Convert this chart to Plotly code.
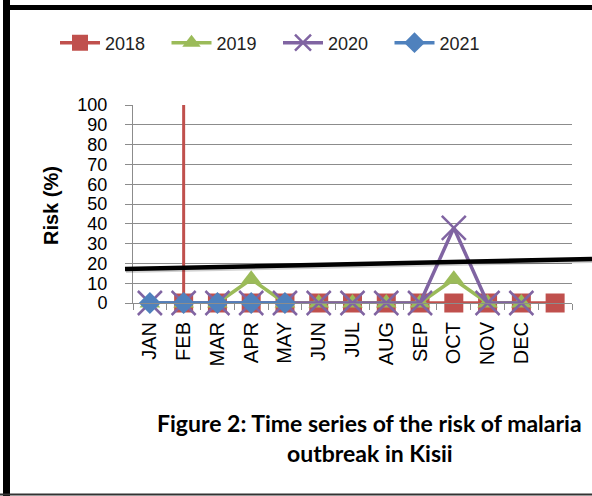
import plotly.graph_objects as go

# ---- data ----
categories = ["JAN", "FEB", "MAR", "APR", "MAY", "JUN", "JUL", "AUG", "SEP", "OCT", "NOV", "DEC", " "]
months = categories[:12]

x_2018 = categories[1:13]
risk_2018 = [0, 0, 0, 0, 0, 0, 0, 0, 0, 0, 0, 0]
spike_2018_x = ["FEB", "FEB"]
spike_2018_y = [0, 100]

risk_2019 = [0, 0, 0, 12, 0, 0, 0, 0, 0, 12, 0, 0]
risk_2020 = [0, 0, 0, 0, 0, 0, 0, 0, 0, 38, 0, 0]
x_2021 = months[:5]
risk_2021 = [0, 0, 0, 0, 0]

y_ticks = [0, 10, 20, 30, 40, 50, 60, 70, 80, 90, 100]

RED, GREEN, PURPLE, BLUE = "#C0504D", "#9BBB59", "#8064A2", "#4F81BD"
GRID = "#8C8C8C"
FONT = "Liberation Sans"
CAPFONT = "Lato"

# plot area in pixels
W, H = 592, 496
L, R, T, B = 133, 572, 105, 303
PW, PH = R - L, B - T


def px(x):
    return (x - L) / PW


def py(y):
    return (B - y) / PH


fig = go.Figure()

fig.add_trace(go.Scatter(
    x=spike_2018_x, y=spike_2018_y, mode="lines", cliponaxis=False,
    line=dict(color=RED, width=3), showlegend=False, hoverinfo="skip"))

fig.add_trace(go.Scatter(
    x=x_2018, y=risk_2018, name="2018", mode="lines+markers", cliponaxis=False,
    line=dict(color=RED, width=3.5),
    marker=dict(symbol="square", size=19, color=RED)))

fig.add_trace(go.Scatter(
    x=months, y=risk_2019, name="2019", mode="lines+markers", cliponaxis=False,
    line=dict(color=GREEN, width=3.5),
    marker=dict(symbol="triangle-up", size=18, color=GREEN)))

fig.add_trace(go.Scatter(
    x=months, y=risk_2020, name="2020", mode="lines+markers", cliponaxis=False,
    line=dict(color=PURPLE, width=3.5),
    marker=dict(symbol="x-thin", size=24, color=PURPLE,
                line=dict(color=PURPLE, width=2.5))))

fig.add_trace(go.Scatter(
    x=x_2021, y=risk_2021, name="2021", mode="lines+markers", cliponaxis=False,
    line=dict(color=BLUE, width=3.5),
    marker=dict(symbol="diamond", size=17, color=BLUE)))

shapes = [
    # hand-drawn threshold line (with faint shadow)
    dict(type="line", xref="paper", yref="paper",
         x0=px(126), y0=py(271.5), x1=px(592), y1=py(261.5),
         line=dict(color="rgba(0,0,0,0.18)", width=3), layer="above"),
    dict(type="line", xref="paper", yref="paper",
         x0=px(125), y0=py(269), x1=px(592), y1=py(259),
         line=dict(color="black", width=4.5), layer="above"),
    # frame borders
    dict(type="line", xref="paper", yref="paper",
         x0=px(6.5), y0=py(0), x1=px(6.5), y1=py(496),
         line=dict(color="black", width=7)),
    dict(type="line", xref="paper", yref="paper",
         x0=px(6), y0=py(7.5), x1=px(592), y1=py(7.5),
         line=dict(color="black", width=5)),
    dict(type="line", xref="paper", yref="paper",
         x0=px(0), y0=py(494.5), x1=px(592), y1=py(494.5),
         line=dict(color="#333333", width=2)),
]

annotations = [
    dict(text="<b>Risk (%)</b>", xref="paper", yref="paper",
         x=px(51), y=py(206), textangle=-90, showarrow=False,
         font=dict(family=FONT, size=20, color="black"),
         xanchor="center", yanchor="middle"),
    dict(text="<b>Figure 2: Time series of the risk of malaria</b>", xref="paper", yref="paper",
         x=px(369), y=py(423), showarrow=False,
         font=dict(family=CAPFONT, size=23, color="black"),
         xanchor="center", yanchor="middle"),
    dict(text="<b>outbreak in Kisii</b>", xref="paper", yref="paper",
         x=px(370), y=py(453), showarrow=False,
         font=dict(family=CAPFONT, size=23, color="black"),
         xanchor="center", yanchor="middle"),
]

fig.update_layout(
    width=W, height=H,
    margin=dict(l=L, r=W - R, t=T, b=H - B, pad=0, autoexpand=False),
    paper_bgcolor="white", plot_bgcolor="white",
    font=dict(family=FONT, color="black"),
    showlegend=True,
    legend=dict(orientation="h", x=px(55), y=py(43), xanchor="left", yanchor="middle",
                font=dict(family=FONT, size=18, color="#222222"),
                itemwidth=40, entrywidth=56.5, traceorder="normal"),
    shapes=shapes, annotations=annotations,
    xaxis=dict(type="category", categoryorder="array", categoryarray=categories,
               range=[-0.5, 12.5], tickson="boundaries", ticks="outside", ticklen=6,
               tickcolor=GRID, showgrid=False, showline=True, linecolor=GRID, linewidth=1,
               tickangle=-90, tickfont=dict(family=FONT, size=20, color="black"),
               ticklabelstandoff=10, automargin=False, fixedrange=True),
    yaxis=dict(range=[0, 100], tickvals=y_ticks, ticks="outside", ticklen=7,
               tickcolor=GRID, showgrid=True, gridcolor=GRID, gridwidth=1,
               showline=True, linecolor=GRID, linewidth=1, zeroline=False,
               tickfont=dict(family=FONT, size=18, color="black"),
               ticklabelstandoff=14, automargin=False, fixedrange=True),
)

fig.write_html("out.html", config={"displayModeBar": False},
               post_script="document.body.style.margin='0px';")
